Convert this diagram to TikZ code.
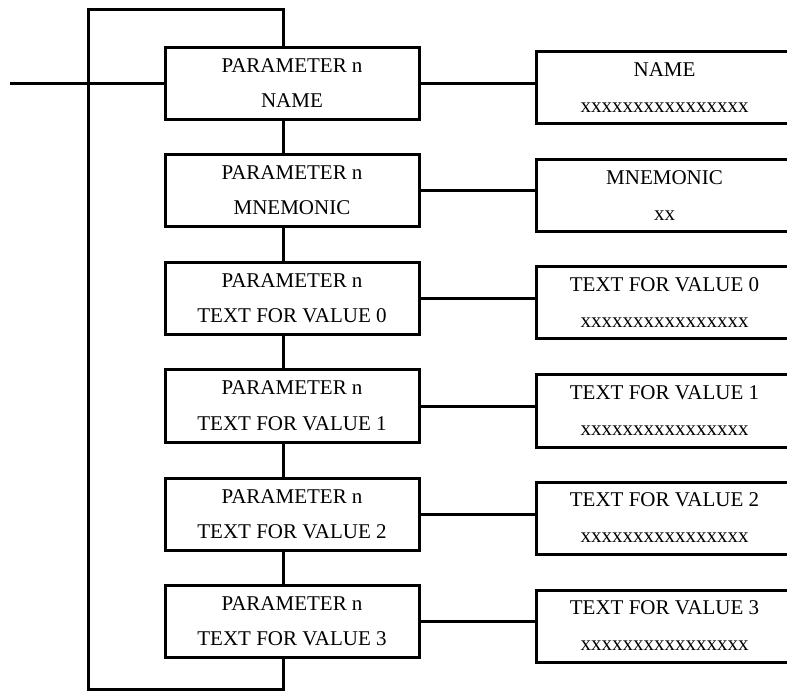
\documentclass[tikz,border=0pt]{standalone}
\usepackage{fontspec}
\setmainfont{Liberation Serif}
\usetikzlibrary{calc}
\begin{document}
\begin{tikzpicture}[x=1pt, y=-1pt, line width=3pt,
  parambox/.style={draw, minimum width=254pt, minimum height=72pt, inner sep=0pt, anchor=north west},
  valbox/.style={draw, minimum width=280pt, minimum height=72pt, inner sep=0pt, anchor=north west},
  lbl/.style={font=\fontsize{21}{25}\selectfont, anchor=base, inner sep=0pt}]
\useasboundingbox (0,0) rectangle (787,692);
\clip (0,0) rectangle (787,692);

% parameter chain on the left, value records on the right
\foreach \i/\ty/\ry/\t/\v in {0/46.5/50.5/NAME/xxxxxxxxxxxxxxxx,
                              1/153.5/158.5/MNEMONIC/xx,
                              2/261.5/265.5/TEXT FOR VALUE 0/xxxxxxxxxxxxxxxx,
                              3/368.5/373.5/TEXT FOR VALUE 1/xxxxxxxxxxxxxxxx,
                              4/476.5/480.5/TEXT FOR VALUE 2/xxxxxxxxxxxxxxxx,
                              5/583.5/588.5/TEXT FOR VALUE 3/xxxxxxxxxxxxxxxx}
{
  \node[parambox] (p\i) at (163.5,\ty) {};
  \node[valbox] (v\i) at (534.5,\ry) {};
  \node[lbl] (pa\i) at ($(p\i.north)+(0,26.5)$) {PARAMETER n};
  \node[lbl] (pb\i) at ($(p\i.north)+(0,61.5)$) {\t};
  \node[lbl] (va\i) at ($(v\i.north west)+(130,26)$) {\t};
  \node[lbl] (vb\i) at ($(v\i.north west)+(130,62)$) {\v};
  \draw (p\i.east) -- (v\i.west |- p\i.east);
}

% vertical links between consecutive parameter boxes
\coordinate (jx) at (283.5,0);
\foreach \i/\j in {0/1,1/2,2/3,3/4,4/5}
  \draw (p\i.south -| jx) -- (p\j.north -| jx);

% return loop around the chain
\coordinate (lt) at (88.5,9.5);
\coordinate (lb) at (88.5,689.5);
\draw (p0.north -| jx) |- (lt) -- (lb) -| (p5.south -| jx);

% incoming line
\coordinate (in) at (10,0);
\draw (in |- p0.west) -- (p0.west);
\end{tikzpicture}
\end{document}
